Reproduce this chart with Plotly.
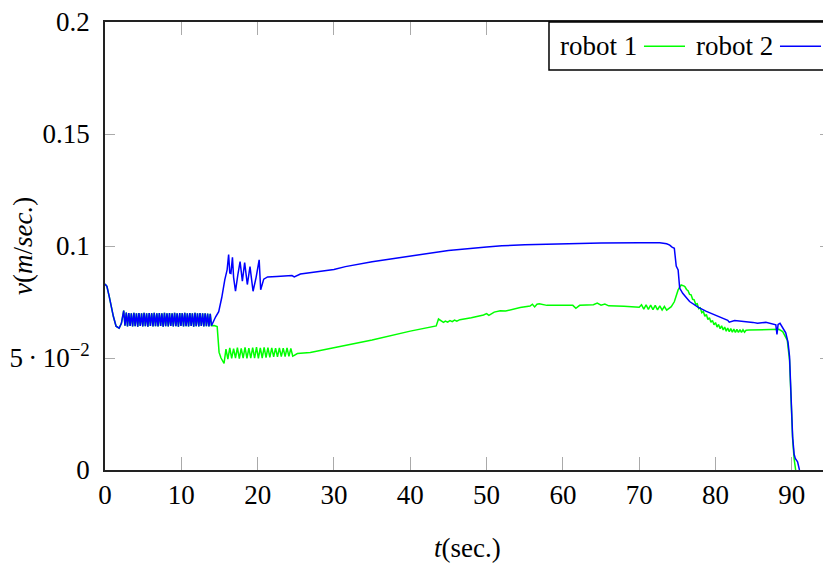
import plotly.graph_objects as go

# both robots share the first ~14 s (robot 2 is drawn on top)
t_start = [0.0, 0.25, 0.55, 0.8, 1.1, 1.45, 1.85, 2.15, 2.45,
           2.62, 2.79, 2.95, 3.12, 3.29, 3.45, 3.62, 3.79, 3.95, 4.12,
           4.29, 4.45, 4.62, 4.79, 4.95, 5.12, 5.29, 5.45, 5.62, 5.79,
           5.95, 6.12, 6.29, 6.45, 6.62, 6.79, 6.95, 7.12, 7.29, 7.45,
           7.62, 7.79, 7.95, 8.12, 8.29, 8.45, 8.62, 8.79, 8.95, 9.12,
           9.29, 9.45, 9.62, 9.79, 9.95, 10.12, 10.29, 10.45, 10.62, 10.79,
           10.95, 11.12, 11.29, 11.45, 11.62, 11.79, 11.95, 12.12, 12.29, 12.45,
           12.62, 12.79, 12.95, 13.12, 13.29, 13.45, 13.62, 13.79, 13.95]
v_start = [0.0830, 0.0820, 0.0775, 0.0730, 0.0685, 0.0642, 0.0633, 0.0655, 0.0712,
           0.0644, 0.0703, 0.0641, 0.0701, 0.0643, 0.0700, 0.0641, 0.0702, 0.0642, 0.0700,
           0.0640, 0.0701, 0.0643, 0.0699, 0.0641, 0.0702, 0.0642, 0.0700, 0.0640, 0.0701,
           0.0643, 0.0700, 0.0641, 0.0702, 0.0642, 0.0699, 0.0641, 0.0701, 0.0643, 0.0700,
           0.0640, 0.0702, 0.0642, 0.0700, 0.0641, 0.0701, 0.0643, 0.0699, 0.0641, 0.0702,
           0.0642, 0.0700, 0.0640, 0.0701, 0.0643, 0.0700, 0.0641, 0.0702, 0.0642, 0.0699,
           0.0641, 0.0701, 0.0643, 0.0700, 0.0640, 0.0702, 0.0642, 0.0700, 0.0641, 0.0701,
           0.0643, 0.0699, 0.0641, 0.0700, 0.0642, 0.0698, 0.0641, 0.0697, 0.0644]

t_robot1 = [14.3, 14.7, 14.95, 15.2, 15.6,
            15.85, 16.1, 16.35, 16.6, 16.85, 17.1, 17.35, 17.6, 17.85, 18.1,
            18.35, 18.6, 18.85, 19.1, 19.35, 19.6, 19.85, 20.1, 20.35, 20.6,
            20.85, 21.1, 21.35, 21.6, 21.85, 22.1, 22.35, 22.6, 22.85, 23.1,
            23.35, 23.6, 23.85, 24.1, 24.35, 24.6, 24.8, 25.2, 26.9, 30.0,
            35.0, 40.0, 41.3, 43.4, 43.7, 44.0, 44.35, 44.6, 44.9, 45.2,
            45.5, 45.8, 46.1, 46.5, 47.0, 48.0, 49.6, 50.0, 50.3, 51.0,
            51.8, 52.5, 54.4, 55.7, 56.0, 56.3, 56.6, 56.9, 57.9, 60.0,
            61.3, 61.7, 62.2, 64.0, 64.5, 65.0, 65.5, 66.0, 67.0, 68.0,
            69.0, 70.0, 70.3, 70.6, 70.9, 71.2, 71.5, 71.8, 72.1, 72.4,
            72.7, 73.0, 73.3, 73.6, 74.2, 74.6, 75.1, 75.5, 75.9, 76.0,
            76.2, 76.4, 76.6, 76.8, 77.0, 77.2, 77.4, 77.6, 77.8, 78.0,
            78.2, 78.4, 78.6, 78.8, 79.0, 79.2, 79.4, 79.6, 79.8, 80.0,
            80.2, 80.4, 80.6, 80.8, 81.0, 81.2, 81.4, 81.6, 81.8, 82.0,
            82.2, 82.4, 82.6, 82.8, 83.0, 83.2, 83.4, 83.6, 83.8, 84.0,
            84.4, 86.0, 87.9, 88.3, 88.8, 89.4, 89.7, 89.9, 90.1, 90.3,
            90.5]
v_robot1 = [0.0645, 0.0640, 0.0525, 0.0500, 0.0476,
            0.0540, 0.0495, 0.0545, 0.0498, 0.0542, 0.0500, 0.0546, 0.0497, 0.0543, 0.0500,
            0.0547, 0.0498, 0.0544, 0.0499, 0.0546, 0.0500, 0.0548, 0.0498, 0.0545, 0.0500,
            0.0547, 0.0502, 0.0546, 0.0503, 0.0545, 0.0505, 0.0544, 0.0505, 0.0545, 0.0506,
            0.0544, 0.0506, 0.0545, 0.0507, 0.0543, 0.0508, 0.0512, 0.0520, 0.0525, 0.0547,
            0.0580, 0.0620, 0.0628, 0.0643, 0.0674, 0.0668, 0.0659, 0.0665, 0.0660, 0.0667,
            0.0662, 0.0669, 0.0664, 0.0671, 0.0673, 0.0680, 0.0692, 0.0698, 0.0690, 0.0705,
            0.0711, 0.0710, 0.0725, 0.0732, 0.0740, 0.0728, 0.0740, 0.0742, 0.0735, 0.0735,
            0.0735, 0.0722, 0.0735, 0.0738, 0.0745, 0.0736, 0.0741, 0.0733, 0.0733, 0.0731,
            0.0729, 0.0727, 0.0738, 0.0718, 0.0737, 0.0717, 0.0736, 0.0716, 0.0735, 0.0715,
            0.0733, 0.0714, 0.0730, 0.0714, 0.0729, 0.0751, 0.0804, 0.0826, 0.0821, 0.0818,
            0.0806, 0.0800, 0.0784, 0.0782, 0.0762, 0.0760, 0.0740, 0.0742, 0.0720, 0.0724,
            0.0702, 0.0708, 0.0686, 0.0694, 0.0672, 0.0680, 0.0660, 0.0668, 0.0648, 0.0658,
            0.0638, 0.0650, 0.0631, 0.0644, 0.0625, 0.0638, 0.0620, 0.0634, 0.0617, 0.0631,
            0.0615, 0.0629, 0.0614, 0.0628, 0.0614, 0.0627, 0.0614, 0.0626, 0.0615, 0.0624,
            0.0625, 0.0627, 0.0629, 0.0628, 0.0618, 0.0580, 0.0490, 0.0310, 0.0140, 0.0050,
            0.0]

t_robot2 = [14.15, 14.5, 14.9, 15.3, 15.7, 16.0, 16.2, 16.35, 16.5, 16.7,
            16.85, 17.1, 17.4, 17.7, 18.0, 18.3, 18.65, 19.0, 19.4, 19.8,
            20.2, 20.4, 20.8, 21.3, 22.5, 23.5, 24.5, 24.8, 25.6, 30.0,
            31.5, 35.0, 40.0, 43.0, 45.0, 50.0, 52.0, 55.0, 60.0, 65.0,
            70.0, 72.7, 73.6, 74.0, 74.3, 74.6, 74.85, 75.1, 75.3, 75.7,
            76.6, 77.7, 78.8, 80.1, 81.6, 81.8, 82.5, 84.9, 85.5, 86.6,
            87.9, 88.05, 88.2, 88.45, 88.8, 89.2, 89.5, 89.7, 89.9, 90.1,
            90.3, 90.45, 90.75, 91.0]
v_robot2 = [0.0660, 0.0684, 0.0707, 0.0770, 0.0850, 0.0893, 0.0962, 0.0880, 0.0878, 0.0950,
            0.0860, 0.0798, 0.0870, 0.0930, 0.0843, 0.0926, 0.0828, 0.0908, 0.0798, 0.0860,
            0.0938, 0.0805, 0.0852, 0.0862, 0.0864, 0.0866, 0.0868, 0.0862, 0.0875, 0.0895,
            0.0908, 0.0930, 0.0955, 0.0972, 0.0980, 0.0995, 0.1001, 0.1006, 0.1011, 0.1013,
            0.1015, 0.1015, 0.1010, 0.1004, 0.0995, 0.0990, 0.0910, 0.0893, 0.0812, 0.0789,
            0.0752, 0.0727, 0.0708, 0.0690, 0.0668, 0.0660, 0.0667, 0.0659, 0.0655, 0.0659,
            0.0648, 0.0605, 0.0650, 0.0655, 0.0632, 0.0612, 0.0570, 0.0506, 0.0327, 0.0149,
            0.0070, 0.0052, 0.0037, 0.0]

y_ticks = [0, 0.05, 0.1, 0.15, 0.2]
y_ticktext = ["0", "5\u2009·\u200910<sup>−2</sup>", "0.1", "0.15", "0.2"]
x_ticks = [0, 10, 20, 30, 40, 50, 60, 70, 80, 90]

serif = "Liberation Serif"

fig = go.Figure()
fig.add_trace(go.Scatter(x=t_start + t_robot1, y=v_start + v_robot1, mode="lines",
                         name="robot 1", line=dict(color="#00ff00", width=1.5)))
fig.add_trace(go.Scatter(x=t_start + t_robot2, y=v_start + v_robot2, mode="lines",
                         name="robot 2", line=dict(color="#0000ff", width=1.5)))

axis_common = dict(
    showgrid=False, zeroline=False, showline=True, linecolor="#222", linewidth=1.6,
    mirror="allticks", ticks="inside", tickcolor="#aaa", tickwidth=1, automargin=False,
    ticklabeloverflow="allow",
    tickfont=dict(family=serif, size=27, color="black"),
)
fig.update_xaxes(range=[0, 95], tickvals=x_ticks, ticklen=13, ticklabelstandoff=0,
                 **axis_common)
fig.update_yaxes(range=[0, 0.2], tickvals=y_ticks, ticktext=y_ticktext, ticklen=10,
                 ticklabelstandoff=8, **axis_common)

# axis titles
fig.add_annotation(x=0.5, y=-0.174, xref="paper", yref="paper", text="<i>t</i>(sec.)",
                   showarrow=False, xanchor="center", yanchor="middle",
                   font=dict(family=serif, size=27, color="black"))
fig.add_annotation(x=-0.113, y=0.5, xref="paper", yref="paper",
                   text="<i>v</i>(<i>m</i>/<i>sec.</i>)", textangle=-90,
                   showarrow=False, xanchor="center", yanchor="middle",
                   font=dict(family=serif, size=27, color="black"))

# legend box in the pgfplots style: label first, then the line sample
fig.add_shape(type="rect", xref="paper", yref="paper", x0=0.6124, x1=1, y0=0.893, y1=1,
              line=dict(color="black", width=1.5), fillcolor="white", layer="above")
legend_items = [("robot 1", "#00ff00", 0.6248, 0.7434, 0.80),
                ("robot 2", "#0000ff", 0.8124, 0.931, 0.9876)]
for label, color, tx, lx0, lx1 in legend_items:
    fig.add_annotation(x=tx, y=0.946, xref="paper", yref="paper", text=label,
                       showarrow=False, xanchor="left", yanchor="middle",
                       font=dict(family=serif, size=27, color="black"))
    fig.add_shape(type="line", xref="paper", yref="paper", x0=lx0, x1=lx1, y0=0.946, y1=0.946,
                  line=dict(color=color, width=1.5), layer="above")

# the page body adds an 8 px margin, so the figure is 8 px smaller each way
fig.update_layout(
    width=823, height=574, showlegend=False,
    margin=dict(l=97, r=1, t=14, b=112),
    paper_bgcolor="white", plot_bgcolor="white",
    font=dict(family=serif, color="black"),
)

fig.write_html("out.html")
